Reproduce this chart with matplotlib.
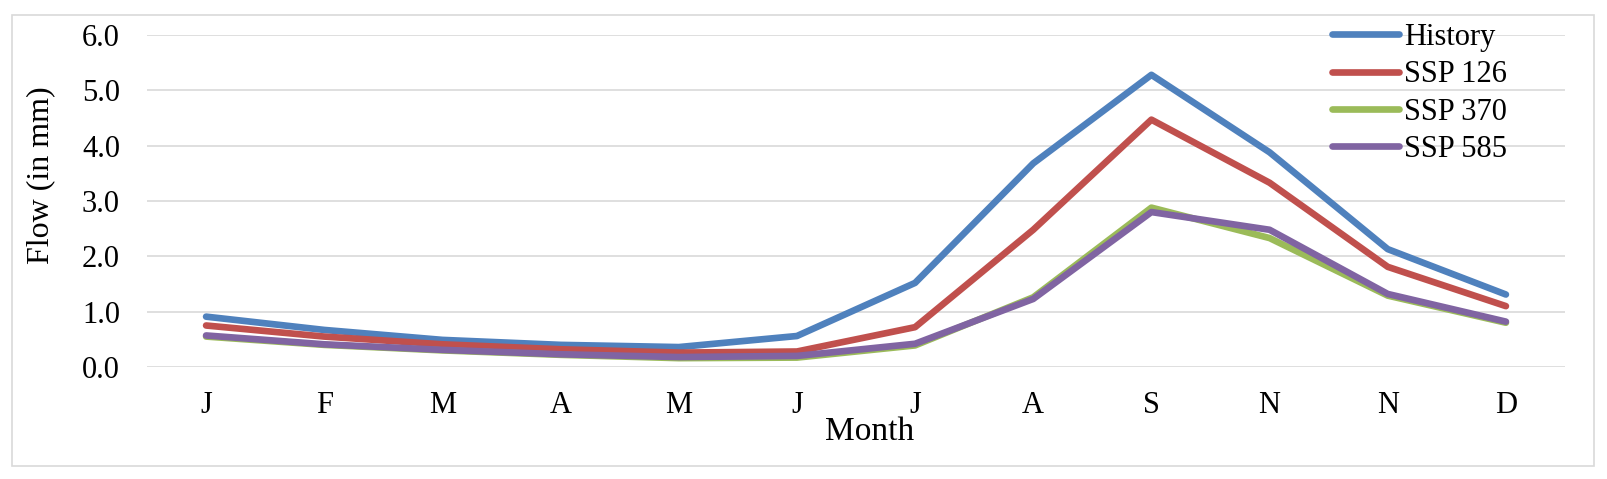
import matplotlib
matplotlib.use('Agg')
import matplotlib.pyplot as plt
from matplotlib.patches import Rectangle

plt.rcParams['font.family'] = ['Liberation Serif', 'DejaVu Serif']

months = ['J', 'F', 'M', 'A', 'M', 'J', 'J', 'A', 'S', 'N', 'N', 'D']
history = [0.91, 0.67, 0.49, 0.40, 0.36, 0.56, 1.52, 3.68, 5.28, 3.88, 2.13, 1.31]
ssp126 = [0.75, 0.55, 0.41, 0.32, 0.26, 0.28, 0.72, 2.48, 4.47, 3.33, 1.81, 1.10]
ssp370 = [0.55, 0.40, 0.30, 0.22, 0.16, 0.17, 0.39, 1.26, 2.88, 2.33, 1.29, 0.80]
ssp585 = [0.57, 0.41, 0.31, 0.23, 0.18, 0.20, 0.42, 1.23, 2.80, 2.48, 1.32, 0.82]

series = [('History', history, '#4F81BD'),
          ('SSP 126', ssp126, '#C0504D'),
          ('SSP 370', ssp370, '#9BBB59'),
          ('SSP 585', ssp585, '#8064A2')]

W, H = 1608, 479
fig = plt.figure(figsize=(W / 100, H / 100), dpi=100)
# light chart border like the spreadsheet export
fig.patches.append(Rectangle((12 / W, 1 - 466 / H), (1594 - 12) / W, (466 - 15) / H,
                             transform=fig.transFigure, fill=False,
                             edgecolor='#D9D9D9', linewidth=1.2))

ax = fig.add_axes([147 / W, 1 - 367 / H, (1565 - 147) / W, (367 - 35) / H])
x = range(len(months))
for name, vals, col in series:
    ax.plot(x, vals, color=col, linewidth=4.8, label=name, solid_capstyle='round')

ax.set_xlim(-0.5, 11.5)
ax.set_ylim(0, 6)
ax.set_yticks([0, 1, 2, 3, 4, 5, 6])
ax.set_yticklabels(['%.1f' % v for v in range(7)])
ax.set_xticks(list(x))
ax.set_xticklabels(months)
ax.tick_params(length=0, labelsize=22)
ax.tick_params(axis='y', pad=19.5)
ax.tick_params(axis='x', pad=17)
ax.grid(axis='y', color='#D9D9D9', linewidth=1.2)
ax.set_axisbelow(True)
for s in ax.spines.values():
    s.set_visible(False)

ax.set_ylabel('Flow (in mm)', fontsize=23)
ax.yaxis.set_label_coords((55 - 147) / 1418, (367 - 175) / 332)
ax.set_xlabel('Month', fontsize=24)
ax.xaxis.set_label_coords((870 - 147) / 1418, (367 - 416) / 332)

leg = ax.legend(loc='upper left', bbox_to_anchor=(1332 / W, 1 - 23 / H),
                bbox_transform=fig.transFigure, frameon=False,
                fontsize=22, handlelength=2.2, handletextpad=0.15,
                labelspacing=0.27, borderaxespad=0, borderpad=0)

fig.savefig('out.png', dpi=100)
